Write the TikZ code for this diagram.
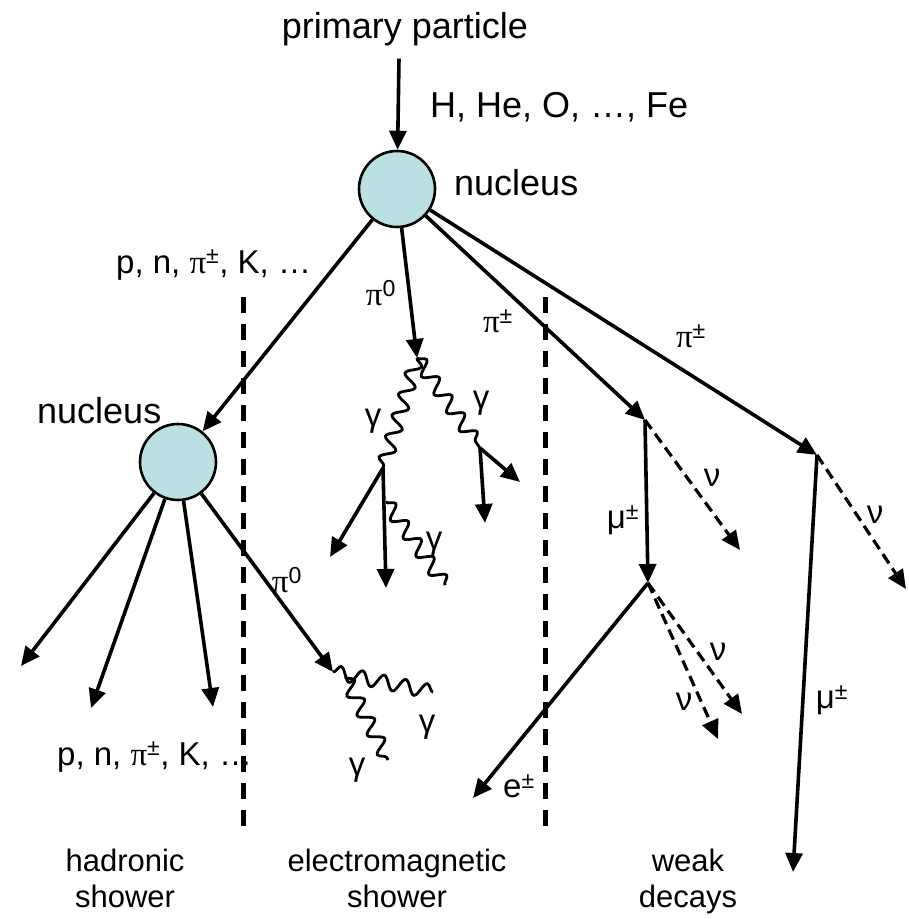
\documentclass[tikz,border=0pt]{standalone}
\usepackage{fontspec}
\setmainfont{Liberation Sans}
\newfontfamily\grk{Liberation Serif}
\usetikzlibrary{arrows.meta,decorations.pathmorphing}
\definecolor{nucblue}{RGB}{187,224,228}
\begin{document}
\begin{tikzpicture}[x=1pt,y=1pt,
  every node/.style={inner sep=0pt, font=\fontsize{33}{38}\selectfont},
  big/.style={font=\fontsize{36}{40}\selectfont},
  small/.style={font=\fontsize{31}{36}\selectfont, align=center, anchor=north},
  arr/.style={line width=3.6pt, -{Triangle[length=19pt,width=17pt]}},
  nu/.style={line width=3.2pt, dash pattern=on 11pt off 6pt, -{Triangle[length=19pt,width=17pt]}},
  sepline/.style={line width=5pt, dash pattern=on 16pt off 11pt},
  photon/.style={line width=2.8pt, decorate, decoration={snake, amplitude=7pt, segment length=22pt}},
  nuc/.style={circle, draw, line width=2.6pt, fill=nucblue, minimum size=76pt}]
\useasboundingbox (0,0) rectangle (909,-919);

% nuclei
\node[nuc] (n1) at (397,-189) {};
\node[nuc] (n2) at (178,-462) {};

% texts
\node[big, anchor=base] (prim) at (405,-38) {primary particle};
\node[big, anchor=base west] (comp) at (430,-117) {H, He, O, …, Fe};
\node[big, anchor=base west] (nl1) at (454,-195) {nucleus};
\node[big, anchor=base west] (nl2) at (37,-423) {nucleus};
\node[anchor=base west] (had1) at (116,-273) {p, n, {\grk π}\textsuperscript{±}, K, …};
\node[anchor=base west] (had2) at (57,-765) {p, n, {\grk π}\textsuperscript{±}, K, …};

\node[small] (lab1) at (125,-849) {hadronic\\shower};
\node[small] (lab2) at (397,-849) {electromagnetic\\shower};
\node[small] (lab3) at (688,-849) {weak\\decays};

% coordinates
\coordinate (g0) at (417,-358);
\coordinate (w1) at (645,-420);
\coordinate (w2) at (817,-455);
\coordinate (v1) at (383,-468);
\coordinate (v2) at (480,-448);
\coordinate (h1) at (21,-666);
\coordinate (h2) at (91,-708);
\coordinate (h3) at (213,-707);
\coordinate (g1) at (333,-672);
\coordinate (g1b) at (345,-677);
\coordinate (a1) at (330,-557);
\coordinate (a2) at (386,-588);
\coordinate (c1) at (386,-502);
\coordinate (c2) at (445,-585);
\coordinate (a3) at (520,-482);
\coordinate (a4) at (485,-523);
\coordinate (b1) at (433,-692);
\coordinate (b2) at (388,-760);
\coordinate (w3) at (648,-583);
\coordinate (d1) at (740,-550);
\coordinate (e1) at (473,-798);
\coordinate (d2) at (742,-714);
\coordinate (d3) at (718,-739);
\coordinate (m1) at (793,-872);
\coordinate (d4) at (906,-589);
\coordinate (s1a) at (243,-297);
\coordinate (s1b) at (243,-827);
\coordinate (s2a) at (545,-297);
\coordinate (s2b) at (545,-826);

% separators
\draw[sepline] (s1a) -- (s1b);
\draw[sepline] (s2a) -- (s2b);

% primary
\draw[arr] ([yshift=-13pt]prim.south -| 399,0) -- (n1);

% from first nucleus
\draw[arr] (n1) -- (n2);
\draw[arr] (n1) -- (g0);
\draw[arr] (n1) -- (w1);
\draw[arr] (n1) -- (w2);

% electromagnetic (top)
\draw[photon] (g0) -- (v1);
\draw[photon] (g0) -- (v2);
\draw[arr] (v1) -- (a1);
\draw[arr] (v1) -- (a2);
\draw[photon] (c1) -- (c2);
\draw[arr] (v2) -- (a3);
\draw[arr] (v2) -- (a4);

% from second nucleus
\draw[arr] (n2) -- (h1);
\draw[arr] (n2) -- (h2);
\draw[arr] (n2) -- (h3);
\draw[arr] (n2) -- (g1);
\draw[photon] (g1) -- (b1);
\draw[photon] (g1b) -- (b2);

% weak decays
\draw[arr] (w1) -- (w3);
\draw[nu] (w1) -- (d1);
\draw[arr] (w3) -- (e1);
\draw[nu] (w3) -- (d2);
\draw[nu] (w3) -- (d3);
\draw[arr] (w2) -- (m1);
\draw[nu] (w2) -- (d4);

% particle labels
\node (pi0a) at (381,-293) {{\grk π}\textsuperscript{0}};
\node (pipa) at (498,-321) {{\grk π}\textsuperscript{±}};
\node (pipb) at (691,-336) {{\grk π}\textsuperscript{±}};
\node (pi0b) at (287,-580) {{\grk π}\textsuperscript{0}};
\node (ga1) at (373,-421) {γ};
\node (ga2) at (481,-403) {γ};
\node (ga3) at (434,-544) {γ};
\node (ga4) at (427,-727) {γ};
\node (ga5) at (357,-770) {γ};
\node (mu1) at (623,-520) {μ\textsuperscript{±}};
\node (mu2) at (832,-700) {μ\textsuperscript{±}};
\node (nu1) at (712,-478) {ν};
\node (nu2) at (875,-515) {ν};
\node (nu3) at (718,-652) {ν};
\node (nu4) at (684,-702) {ν};
\node (el) at (519,-786) {e\textsuperscript{±}};
\end{tikzpicture}
\end{document}
